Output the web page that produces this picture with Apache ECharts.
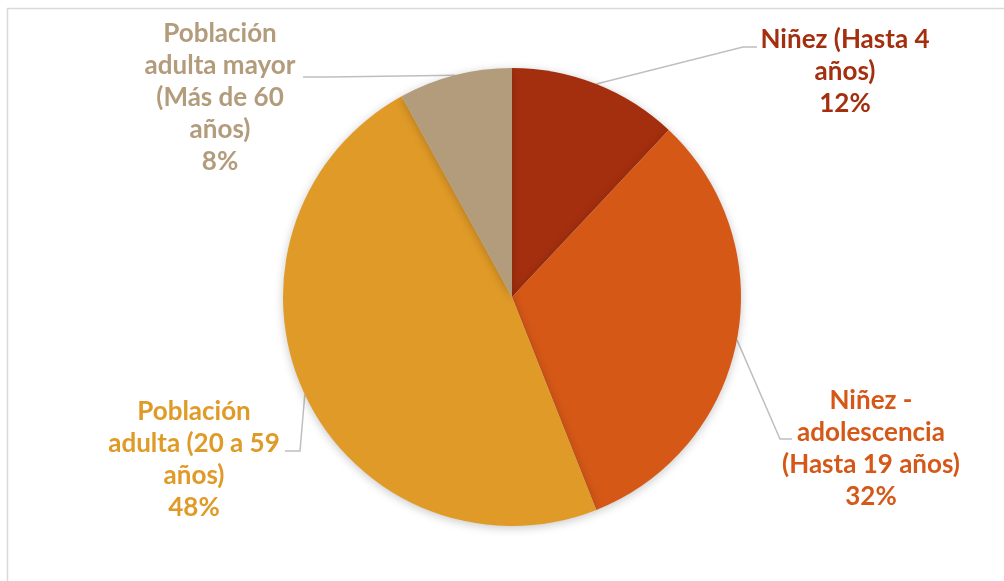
<!DOCTYPE html>
<html>
<head>
<meta charset="utf-8">
<script src="https://cdn.jsdelivr.net/npm/echarts@6/dist/echarts.min.js"></script>
<style>
html,body{margin:0;padding:0;background:#fff;}
#chart{width:1004px;height:581px;}
</style>
</head>
<body>
<div id="chart"></div>
<script>
// Data
const categories = [
  'Niñez (Hasta 4\naños)',
  'Niñez -\nadolescencia\n(Hasta 19 años)',
  'Población\nadulta (20 a 59\naños)',
  'Población\nadulta mayor\n(Más de 60\naños)'
];
const values = [12, 32, 48, 8];
const colors = ['#A42F0F', '#D55817', '#E09A27', '#B29C7C'];

// Label layout (positions of label blocks and line elbows)
const labelPos = [
  { x: 845, y: 72, elbow: [743, 47], end: [757, 47] },
  { x: 871, y: 449, elbow: [780, 439], end: [792, 439] },
  { x: 194, y: 460, elbow: [300, 451], end: [285, 451] },
  { x: 220, y: 98, elbow: [330, 77], end: [303, 77] }
];

const chart = echarts.init(document.getElementById('chart'), null, { renderer: 'canvas' });

const seriesData = categories.map((c, i) => ({
  name: c,
  value: values[i],
  itemStyle: { color: colors[i] },
  label: { color: colors[i] }
}));

chart.setOption({
  animation: false,
  backgroundColor: '#ffffff',
  graphic: [{
    type: 'rect',
    shape: { x: 7.5, y: 8.5, width: 1100, height: 700 },
    style: { fill: 'none', stroke: '#d9d9d9', lineWidth: 1.5 },
    silent: true, z: -10
  }],
  series: [{
    type: 'pie',
    center: [512, 297],
    radius: 229,
    startAngle: 90,
    clockwise: true,
    data: seriesData,
    itemStyle: {
      borderWidth: 0,
      shadowBlur: 10,
      shadowColor: 'rgba(0,0,0,0.22)',
      shadowOffsetY: 2
    },
    label: {
      show: true,
      position: 'outside',
      formatter: p => p.name + '\n' + Math.round(p.percent) + '%',
      fontFamily: 'Lato',
      fontWeight: 'bold',
      fontSize: 26,
      lineHeight: 32,
      align: 'center'
    },
    labelLine: {
      show: true,
      lineStyle: { color: '#bfbfbf', width: 1.5 },
      length: 20,
      length2: 10
    },
    labelLayout: function (params) {
      const lp = labelPos[params.dataIndex];
      const anchor = params.labelLinePoints ? params.labelLinePoints[0] : null;
      const res = {
        x: lp.x,
        y: lp.y,
        align: 'center',
        verticalAlign: 'middle'
      };
      if (anchor) {
        res.labelLinePoints = [anchor, lp.elbow, lp.end];
      }
      return res;
    },
    emphasis: { disabled: true }
  }]
});
</script>
</body>
</html>
